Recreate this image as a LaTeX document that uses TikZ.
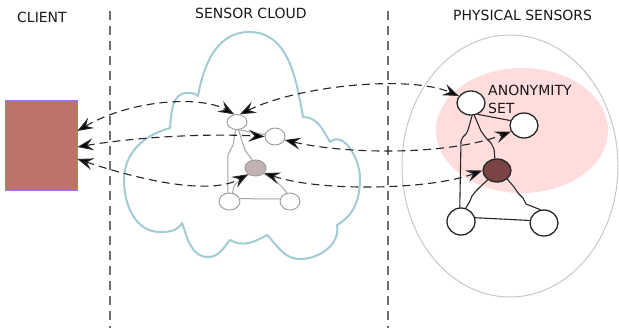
\documentclass[tikz,border=0pt]{standalone}
\usepackage{fontspec}
\newfontfamily\lblfont{DejaVu Sans}
\usetikzlibrary{shapes.geometric,arrows.meta}
\definecolor{clientfill}{RGB}{190,114,106}
\definecolor{clientedge}{RGB}{130,130,240}
\definecolor{cloudline}{RGB}{162,204,212}
\definecolor{anonfill}{RGB}{255,221,221}
\definecolor{darknode}{RGB}{122,68,68}
\definecolor{greynode}{RGB}{196,178,178}
\definecolor{outerline}{RGB}{200,200,200}
\definecolor{sepline}{RGB}{110,110,110}
\begin{document}
\begin{tikzpicture}[x=1pt,y=1pt,
  lbl/.style={font=\lblfont\fontsize{14}{18}\selectfont, text=black!90, inner sep=0, anchor=base west},
  cnode/.style={ellipse, draw=black!40, fill=white, line width=0.9pt, inner sep=0},
  pnode/.style={ellipse, draw=black!85, fill=white, line width=1.3pt, inner sep=0},
  cedge/.style={draw=black!35, line width=1pt},
  pedge/.style={draw=black!85, line width=1.1pt},
  flow/.style={draw=black!85, line width=1.1pt, dash pattern=on 8pt off 5pt,
    arrows={Stealth[length=16pt,width=12pt,inset=6pt,fill=black]-Stealth[length=16pt,width=12pt,inset=6pt,fill=black]}},
  sepl/.style={draw=sepline, line width=1.4pt, dash pattern=on 9pt off 6pt}
]
\useasboundingbox (0,0) rectangle (619,-330);
\fill[white] (0,0) rectangle (619,-330);

% separators
\draw[sepl] (110,-11) -- (110,-328);
\draw[sepl] (388,-11) -- (388,-328);

% headings
\node[lbl] (tclient) at (17,-22) {CLIENT};
\node[lbl] (tcloud) at (195,-18) {SENSOR CLOUD};
\node[lbl] (tphys) at (453,-20) {PHYSICAL SENSORS};

% physical area
\draw[outerline, line width=1pt] (510,-166) ellipse [x radius=108, y radius=131];
\fill[anonfill] (522,-130.5) ellipse [x radius=86, y radius=62.5];
\node[lbl] (tanon) at (488,-95) {ANONYMITY};
\node[lbl] (tset) at (488,-113) {SET};

% cloud outline
\draw[cloudline, line width=2pt, line join=round]
  (170,-128) to[out=85,in=180] (187,-93) to[out=0,in=135] (198,-96)
  to[out=80,in=180] (249,-32) to[out=0,in=100] (303,-117)
  to[out=0,in=120] (330,-142)
  to[out=40,in=90] (360,-178) to[out=-90,in=30] (337,-225)
  to[out=-80,in=0] (300,-259) to[out=180,in=-45] (267,-235)
  to[out=-150,in=-30] (230,-240)
  to[out=-130,in=0] (208,-257) to[out=180,in=-70] (182,-223)
  to[out=-120,in=0] (160,-232) to[out=180,in=-90] (124,-180)
  to[out=90,in=195] cycle;

% client
\node[draw=clientedge, fill=clientfill, minimum width=72pt, minimum height=90pt, inner sep=0, line width=0.8pt] (cl) at (41,-145) {};

% cloud nodes
\node[cnode, minimum width=20pt, minimum height=15pt] (A) at (237,-122) {};
\node[cnode, minimum width=20pt, minimum height=17pt] (B) at (275,-136.5) {};
\node[cnode, fill=greynode, minimum width=21pt, minimum height=16pt] (C) at (255.5,-168) {};
\node[cnode, minimum width=21pt, minimum height=17pt] (D) at (229.5,-201.5) {};
\node[cnode, minimum width=20pt, minimum height=17pt] (E) at (290,-201.5) {};

\draw[cedge] (A.-75) -- (B.170);
\draw[cedge] (A.-100) -- (233,-145) -- (228,-155) -- (D.100);
\draw[cedge] (A.-80) -- (245,-150) -- (250,-157) -- (C.110);
\draw[cedge] (D.15) -- (E.165);
\draw[cedge] (D.70) .. controls (234,-184) .. (C.225);
\draw[cedge] (E.110) .. controls (279,-183) .. (C.-35);

% physical nodes
\node[pnode, minimum width=28pt, minimum height=24pt] (P1) at (471,-103) {};
\node[pnode, minimum width=28pt, minimum height=25pt] (P2) at (524,-125.5) {};
\node[pnode, fill=darknode, minimum width=28pt, minimum height=23pt] (P3) at (497,-170.5) {};
\node[pnode, minimum width=28pt, minimum height=27pt] (P4) at (461,-221.5) {};
\node[pnode, minimum width=28pt, minimum height=26pt] (P5) at (544,-223) {};

\draw[pedge] (P1.-60) -- (P2.160);
\draw[pedge] (P1.-85) -- (468,-130) -- (466,-134) -- (463,-137) -- (461,-141) -- (P4.95);
\draw[pedge] (P1.-75) -- (478,-124) -- (481,-131) -- (486,-138) -- (491,-143) -- (494,-149) -- (P3.100);
\draw[pedge] (P3.225) -- (480,-187) -- (476,-191) -- (472,-196) -- (470,-201) -- (P4.70);
\draw[pedge] (P3.-40) -- (514,-187) -- (518,-193) -- (523,-198) -- (526,-204) -- (P5.105);
\draw[pedge] (P4.15) -- (P5.170);

% flows
\draw[flow] ([yshift=14pt]cl.east) .. controls (130,-100) and (200,-95) .. (A.110);
\draw[flow] (A.70) .. controls (300,-85) and (410,-75) .. (P1.150);
\draw[flow] ([yshift=-2pt]cl.east) .. controls (130,-138) and (200,-133) .. (B.west);
\draw[flow] (B.-20) .. controls (350,-155) and (450,-155) .. (P2.205);
\draw[flow] ([yshift=-14pt]cl.east) .. controls (140,-180) and (210,-196) .. (C.220);
\draw[flow] (C.-30) .. controls (320,-192) and (430,-190) .. (P3.west);
\end{tikzpicture}
\end{document}
